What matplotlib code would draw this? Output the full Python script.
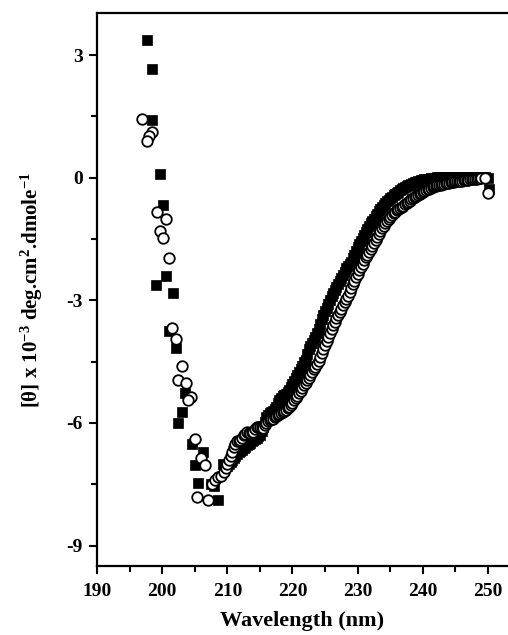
import numpy as np
import matplotlib
matplotlib.use("Agg")
import matplotlib.pyplot as plt
from matplotlib.ticker import MultipleLocator

plt.rcParams['font.family'] = ['Liberation Serif', 'DejaVu Serif']
plt.rcParams['font.weight'] = 'bold'
plt.rcParams['axes.unicode_minus'] = False
plt.rcParams['mathtext.fontset'] = 'custom'
plt.rcParams['mathtext.rm'] = 'Liberation Serif:bold'
plt.rcParams['mathtext.default'] = 'rm'

STEP = 0.25  # nm, scan step of the dense part

# filled squares: scattered low-wavelength points, dense scan, end points
sq_x_early = [197.6, 198.5, 198.4, 199.6, 200.1, 199.0, 200.6, 201.6, 201.05, 202.1,
              203.5, 203.0, 202.5, 204.6, 206.2, 205.0, 205.5, 207.5, 208.5, 207.9, 209.4]
sq_y_early = [3.37, 2.65, 1.40, 0.08, -0.66, -2.62, -2.40, -2.82, -3.75, -4.16,
              -5.27, -5.72, -5.99, -6.52, -6.71, -7.04, -7.47, -7.49, -7.88, -7.55, -7.0]
sq_scan_start = 210.0
sq_y_scan = [-7.05, -7.00, -6.95, -6.90, -6.85, -6.80, -6.75, -6.72, -6.68, -6.65,
             -6.62, -6.58, -6.55, -6.52, -6.48, -6.45, -6.42, -6.40, -6.37, -6.33,
             -6.30, -6.20, -6.10, -5.98, -5.85, -5.80, -5.75, -5.72, -5.70, -5.65,
             -5.60, -5.52, -5.45, -5.40, -5.35, -5.32, -5.30, -5.25, -5.20, -5.12,
             -5.05, -4.98, -4.90, -4.82, -4.75, -4.68, -4.60, -4.52, -4.45, -4.32,
             -4.20, -4.12, -4.05, -3.98, -3.90, -3.80, -3.70, -3.58, -3.45, -3.35,
             -3.25, -3.18, -3.10, -3.00, -2.90, -2.82, -2.75, -2.68, -2.60, -2.52,
             -2.45, -2.38, -2.30, -2.22, -2.15, -2.10, -2.05, -1.96, -1.88, -1.79,
             -1.70, -1.62, -1.55, -1.48, -1.40, -1.32, -1.25, -1.18, -1.10, -1.05,
             -1.00, -0.94, -0.88, -0.82, -0.77, -0.72, -0.67, -0.62, -0.58, -0.54,
             -0.50, -0.46, -0.43, -0.40, -0.37, -0.34, -0.31, -0.28, -0.26, -0.23,
             -0.21, -0.19, -0.17, -0.15, -0.13, -0.11, -0.10, -0.08, -0.07, -0.06,
             -0.05, -0.04, -0.03, -0.02, -0.02, -0.01, -0.01, 0.00, 0.00, 0.01,
             0.01, 0.01, 0.02, 0.02, 0.02, 0.02, 0.02, 0.02, 0.02, 0.02,
             0.02, 0.02, 0.02, 0.02, 0.02, 0.02, 0.02, 0.02, 0.02, 0.02,
             0.02, 0.02, 0.02, 0.02, 0.01, 0.01, 0.01, 0.01, 0.01]
sq_x_end = [250.0, 250.1]
sq_y_end = [0.00, -0.28]

# open circles
ci_x_early = [196.95, 198.5, 198.0, 197.6, 199.2, 200.6, 199.6, 200.1, 201.1, 201.55,
              202.1, 203.1, 202.5, 203.6, 204.5, 204.0, 205.0, 205.9, 206.5, 205.4,
              207.0, 207.6, 208.1, 208.6, 209.1]
ci_y_early = [1.44, 1.13, 1.03, 0.90, -0.84, -1.02, -1.30, -1.48, -1.97, -3.67,
              -3.94, -4.60, -4.96, -5.02, -5.37, -5.43, -6.40, -6.85, -7.04, -7.80,
              -7.88, -7.50, -7.40, -7.33, -7.30]
ci_scan_start = 209.5
ci_y_scan = [-7.20, -7.10, -7.00, -6.90, -6.80, -6.70, -6.60, -6.52, -6.45, -6.44,
             -6.42, -6.36, -6.30, -6.26, -6.22, -6.24, -6.25, -6.23, -6.22, -6.16,
             -6.10, -6.09, -6.10, -6.11, -6.12, -6.06, -6.00, -5.96, -5.92, -5.91,
             -5.90, -5.86, -5.82, -5.80, -5.78, -5.76, -5.74, -5.71, -5.68, -5.64,
             -5.60, -5.55, -5.50, -5.45, -5.40, -5.33, -5.27, -5.21, -5.15, -5.08,
             -5.02, -4.96, -4.90, -4.83, -4.76, -4.69, -4.62, -4.55, -4.48, -4.39,
             -4.30, -4.20, -4.10, -4.00, -3.90, -3.80, -3.70, -3.61, -3.52, -3.44,
             -3.36, -3.28, -3.20, -3.11, -3.03, -2.97, -2.90, -2.80, -2.70, -2.61,
             -2.52, -2.43, -2.35, -2.26, -2.18, -2.10, -2.02, -1.95, -1.88, -1.81,
             -1.75, -1.67, -1.60, -1.52, -1.45, -1.37, -1.30, -1.23, -1.17, -1.11,
             -1.06, -1.00, -0.95, -0.91, -0.87, -0.83, -0.80, -0.77, -0.74, -0.71,
             -0.68, -0.65, -0.62, -0.59, -0.57, -0.53, -0.50, -0.47, -0.45, -0.42,
             -0.40, -0.37, -0.35, -0.32, -0.30, -0.28, -0.27, -0.25, -0.23, -0.21,
             -0.20, -0.19, -0.18, -0.17, -0.16, -0.15, -0.14, -0.13, -0.12, -0.11,
             -0.10, -0.10, -0.09, -0.08, -0.08, -0.07, -0.07, -0.06, -0.06, -0.05,
             -0.05, -0.04, -0.04, -0.03, -0.02, -0.02, -0.01, 0.00, 0.00]
ci_x_end = [249.6, 250.05]
ci_y_end = [0.00, -0.38]

sq_x_scan = sq_scan_start + STEP * np.arange(len(sq_y_scan))
ci_x_scan = ci_scan_start + STEP * np.arange(len(ci_y_scan))

sq_x = np.concatenate([sq_x_early, sq_x_scan, sq_x_end])
sq_y = np.concatenate([sq_y_early, sq_y_scan, sq_y_end])
ci_x = np.concatenate([ci_x_early, ci_x_scan, ci_x_end])
ci_y = np.concatenate([ci_y_early, ci_y_scan, ci_y_end])

fig = plt.figure(figsize=(5.08, 6.35), dpi=100)
ax = fig.add_axes([97 / 508, 1 - 566 / 635, 1 - 97 / 508, (566 - 13) / 635])

ax.plot(sq_x, sq_y, linestyle='none', marker='s', markersize=7.8,
        markerfacecolor='black', markeredgecolor='black', markeredgewidth=0.5)
ax.plot(ci_x, ci_y, linestyle='none', marker='o', markersize=7.6,
        markerfacecolor='white', markeredgecolor='black', markeredgewidth=1.3)

ax.set_xlim(190, 253.07)
ax.set_ylim(-9.5, 4.03)
ax.xaxis.set_major_locator(MultipleLocator(10))
ax.xaxis.set_minor_locator(MultipleLocator(5))
ax.yaxis.set_major_locator(MultipleLocator(3))
ax.yaxis.set_minor_locator(MultipleLocator(1.5))

ax.spines['right'].set_visible(False)
for s in ['left', 'bottom', 'top']:
    ax.spines[s].set_linewidth(1.6)

ax.tick_params(which='major', direction='out', length=6, width=1.5,
               labelsize=14, pad=4)
ax.tick_params(which='minor', direction='out', length=4, width=1.5)
ax.tick_params(axis='x', which='both', pad=6)
ax.tick_params(top=False, right=False)

ax.set_xlabel('Wavelength (nm)', fontsize=16, fontweight='bold', labelpad=8)
ax.set_ylabel(r'[θ] x 10$^{-3}$ deg.cm$^{2}$.dmole$^{-1}$', fontsize=15,
              fontweight='bold', labelpad=16)

fig.savefig('out.png', dpi=100)
